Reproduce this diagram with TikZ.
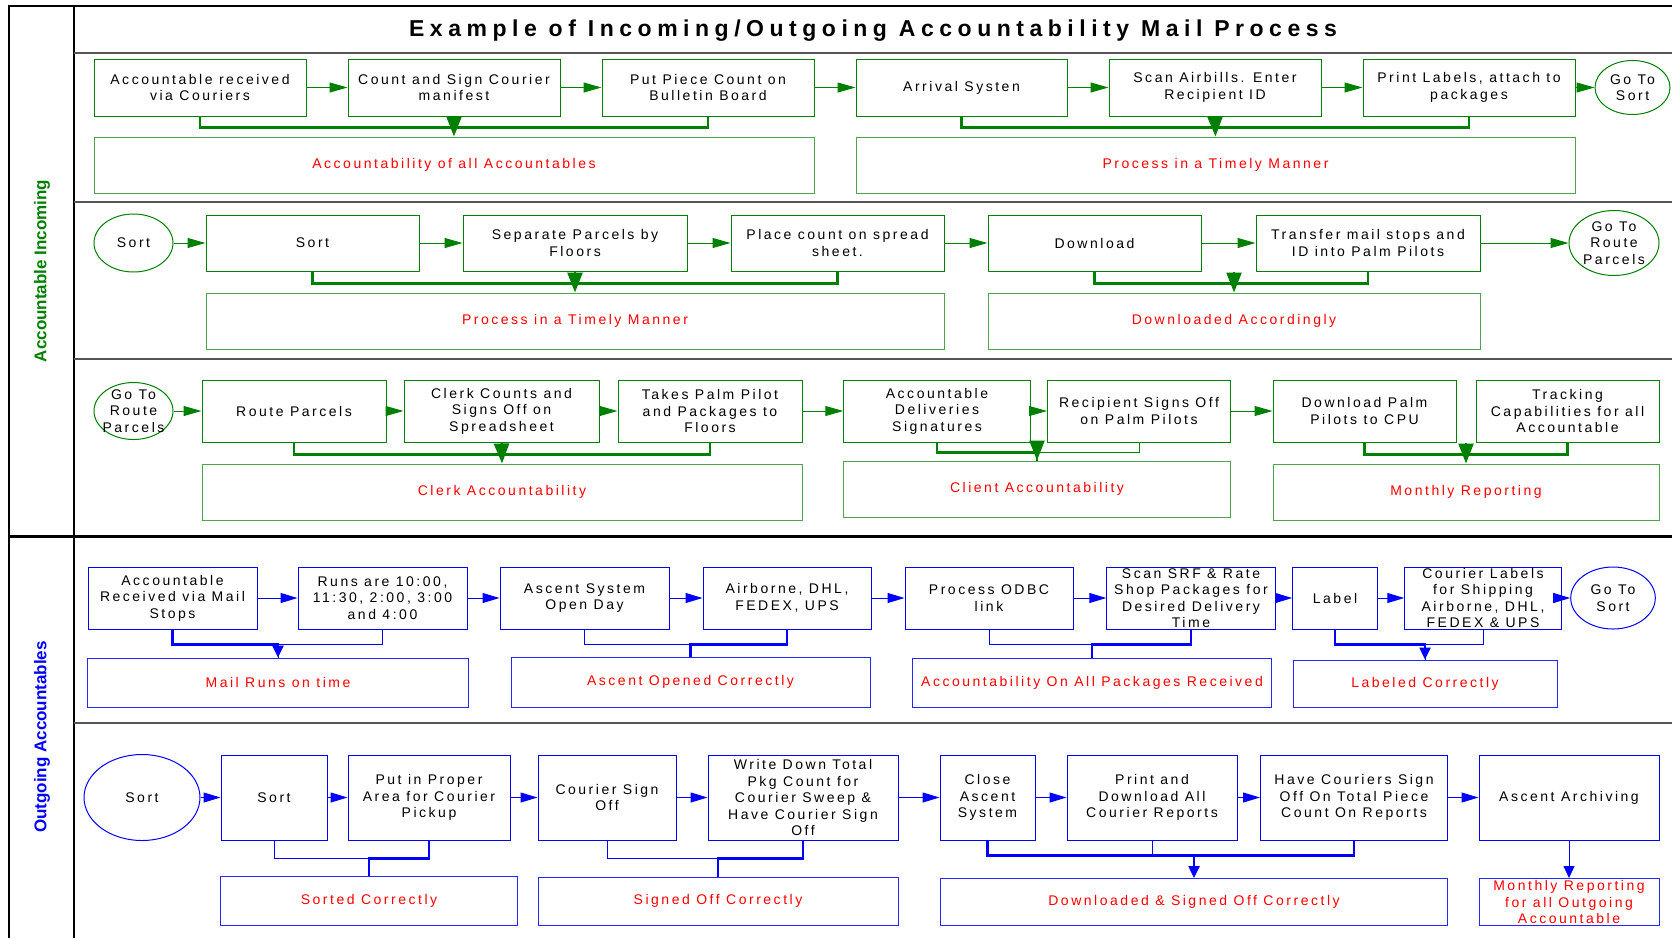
\documentclass[tikz,border=0pt]{standalone}
\usepackage{fontspec}
\setmainfont{Liberation Sans}
\newfontfamily\boxfont{Liberation Sans}[LetterSpace = 18]
\newfontfamily\titlefont{Liberation Sans}[LetterSpace = 24]
\usetikzlibrary{arrows.meta, shapes.geometric}

\definecolor{ingreen}{RGB}{0,128,0}
\definecolor{outblue}{RGB}{0,0,255}
\definecolor{notered}{RGB}{255,0,0}
\definecolor{lanegrey}{RGB}{85,85,85}

\newcommand{\px}{1pt}

\tikzset{
  gbox/.style = {draw = ingreen, line width = 1pt, inner sep = 0pt, align = center,
    font = {\boxfont\fontsize{14}{16.5}\selectfont}},
  gsum/.style = {gbox, draw = ingreen!70, text = notered},
  gterm/.style = {gbox, ellipse, inner sep = -6pt},
  bbox/.style = {gbox, draw = outblue},
  bsum/.style = {bbox, draw = outblue!85, text = notered},
  bterm/.style = {bbox, ellipse, inner sep = -6pt},
  gstep/.style = {draw = ingreen, line width = 1pt, -{Triangle[length = 18pt, width = 10pt]}},
  bstep/.style = {draw = outblue, line width = 1pt, -{Triangle[length = 17pt, width = 10pt]}},
  gthin/.style = {draw = ingreen, line width = 1pt},
  gtie/.style = {draw = ingreen, line width = 2.5pt},
  gfeed/.style = {gtie, -{Triangle[length = 20pt, width = 15pt]}},
  bthin/.style = {draw = outblue, line width = 1pt},
  btie/.style = {draw = outblue, line width = 2.5pt},
  bfeed/.style = {btie, -{Triangle[length = 12pt, width = 11pt]}},
  lane/.style = {draw = black, line width = 1.8pt},
  sep/.style = {draw = lanegrey, line width = 1.4pt}
}

\begin{document}
\begin{tikzpicture}[x = \px, y = -\px]

\useasboundingbox (0, 0) rectangle (1672, 938);

\draw [lane] (9, 938) -- (9, 6) -- (1672, 6);
\draw [lane] (74, 6) -- (74, 938);
\draw [sep] (74, 53) -- (1672, 53);
\draw [sep] (74, 202) -- (1672, 202);
\draw [sep] (74, 359) -- (1672, 359);
\draw [sep] (74, 723) -- (1672, 723);
\draw [lane, line width = 3pt] (9, 536) -- (1672, 536);

\node [font = {\titlefont\bfseries\fontsize{23}{26}\selectfont}] (title) at (873, 31) {Example of Incoming/Outgoing Accountability Mail Process};
\node [rotate = 90, text = ingreen, font = {\bfseries\fontsize{17}{20}\selectfont}] (lin) at (42, 271) {Accountable Incoming};
\node [rotate = 90, text = outblue, font = {\bfseries\fontsize{17}{20}\selectfont}] (lout) at (42, 737) {Outgoing Accountables};

\node [gbox, minimum width = 212, minimum height = 57] (a1) at (200, 87.5) {Accountable received\\via Couriers};
\node [gbox, minimum width = 212, minimum height = 57] (a2) at (454, 87.5) {Count and Sign Courier\\manifest};
\node [gbox, minimum width = 212, minimum height = 57] (a3) at (708, 87.5) {Put Piece Count on\\Bulletin Board};
\node [gbox, minimum width = 211, minimum height = 57] (a4) at (961.5, 87.5) {Arrival Systen};
\node [gbox, minimum width = 212, minimum height = 57] (a5) at (1215, 87.5) {Scan Airbills. Enter\\Recipient ID};
\node [gbox, minimum width = 212, minimum height = 57] (a6) at (1469, 87.5) {Print Labels, attach to\\packages};
\node [gterm, minimum width = 75, minimum height = 54] (e1) at (1632.5, 87.5) {Go To\\Sort};
\node [gsum, minimum width = 720, minimum height = 56] (s1) at (454, 165) {Accountability of all Accountables};
\node [gsum, minimum width = 719, minimum height = 56] (s2) at (1215.5, 165) {Process in a Timely Manner};

\node [gterm, minimum width = 79, minimum height = 58] (e2) at (133.5, 243) {Sort};
\node [gbox, minimum width = 213, minimum height = 56] (b1) at (312.5, 243) {Sort};
\node [gbox, minimum width = 224, minimum height = 56] (b2) at (575, 243) {Separate Parcels by\\Floors};
\node [gbox, minimum width = 213, minimum height = 56] (b3) at (837.5, 243) {Place count on spread\\sheet.};
\node [gbox, minimum width = 213, minimum height = 56] (b4) at (1094.5, 243) {Download};
\node [gbox, minimum width = 224, minimum height = 56] (b5) at (1368, 243) {Transfer mail stops and\\ID into Palm Pilots};
\node [gterm, minimum width = 90, minimum height = 65] (e3) at (1614, 243) {Go To\\Route\\Parcels};
\node [gsum, minimum width = 738, minimum height = 56] (s3) at (575, 321) {Process in a Timely Manner};
\node [gsum, minimum width = 492, minimum height = 56] (s4) at (1234, 321) {Downloaded Accordingly};

\node [gterm, minimum width = 79, minimum height = 57] (e4) at (133.5, 411) {Go To\\Route\\Parcels};
\node [gbox, minimum width = 184, minimum height = 62] (c1) at (294, 411) {Route Parcels};
\node [gbox, minimum width = 195, minimum height = 62] (c2) at (501.5, 411) {Clerk Counts and\\Signs Off on\\Spreadsheet};
\node [gbox, minimum width = 184, minimum height = 62] (c3) at (710, 411) {Takes Palm Pilot\\and Packages to\\Floors};
\node [gbox, minimum width = 186.5, minimum height = 62] (c4) at (937, 411) {Accountable\\Deliveries\\Signatures};
\node [gbox, minimum width = 183, minimum height = 62] (c5) at (1139, 411) {Recipient Signs Off\\on Palm Pilots};
\node [gbox, minimum width = 183, minimum height = 62] (c6) at (1364.5, 411) {Download Palm\\Pilots to CPU};
\node [gbox, minimum width = 183, minimum height = 62] (c7) at (1567.5, 411) {Tracking\\Capabilities for all\\Accountable};
\node [gsum, minimum width = 600, minimum height = 56] (s5) at (502, 492) {Clerk Accountability};
\node [gsum, minimum width = 386.6, minimum height = 56] (s6) at (1037, 489) {Client Accountability};
\node [gsum, minimum width = 386, minimum height = 56] (s7) at (1466, 492) {Monthly Reporting};

\node [bbox, minimum width = 169, minimum height = 62] (d1) at (172.5, 598) {Accountable\\Received via Mail\\Stops};
\node [bbox, minimum width = 169, minimum height = 62] (d2) at (382.5, 598) {Runs are 10:00,\\11:30, 2:00, 3:00\\and 4:00};
\node [bbox, minimum width = 169, minimum height = 62] (d3) at (584.5, 598) {Ascent System\\Open Day};
\node [bbox, minimum width = 168, minimum height = 62] (d4) at (787, 598) {Airborne, DHL,\\FEDEX, UPS};
\node [bbox, minimum width = 168, minimum height = 62] (d5) at (989, 598) {Process ODBC\\link};
\node [bbox, minimum width = 168.5, minimum height = 62] (d6) at (1191, 598) {Scan SRF \& Rate\\Shop Packages for\\Desired Delivery\\Time};
\node [bbox, minimum width = 84.6, minimum height = 62] (d7) at (1335, 598) {Label};
\node [bbox, minimum width = 156.5, minimum height = 62] (d8) at (1483, 598) {Courier Labels\\for Shipping\\Airborne, DHL,\\FEDEX \& UPS};
\node [bterm, minimum width = 84.6, minimum height = 62] (e5) at (1613, 598) {Go To\\Sort};
\node [bsum, minimum width = 380.6, minimum height = 49] (t1) at (278, 682.5) {Mail Runs on time};
\node [bsum, minimum width = 359, minimum height = 50] (t2) at (690.5, 682) {Ascent Opened Correctly};
\node [bsum, minimum width = 359.5, minimum height = 49] (t3) at (1092, 682.5) {Accountability On All Packages Received};
\node [bsum, minimum width = 264, minimum height = 47] (t4) at (1425, 683.5) {Labeled Correctly};

\node [bterm, minimum width = 116, minimum height = 86] (e6) at (142, 797.5) {Sort};
\node [bbox, minimum width = 106, minimum height = 85] (f1) at (274, 797.5) {Sort};
\node [bbox, minimum width = 162, minimum height = 85] (f2) at (429, 797.5) {Put in Proper\\Area for Courier\\Pickup};
\node [bbox, minimum width = 138, minimum height = 85] (f3) at (607, 797.5) {Courier Sign\\Off};
\node [bbox, minimum width = 190, minimum height = 85] (f4) at (803, 797.5) {Write Down Total\\Pkg Count for\\Courier Sweep \&\\Have Courier Sign\\Off};
\node [bbox, minimum width = 95, minimum height = 85] (f5) at (987.5, 797.5) {Close\\Ascent\\System};
\node [bbox, minimum width = 170, minimum height = 85] (f6) at (1152, 797.5) {Print and\\Download All\\Courier Reports};
\node [bbox, minimum width = 187, minimum height = 85] (f7) at (1354, 797.5) {Have Couriers Sign\\Off On Total Piece\\Count On Reports};
\node [bbox, minimum width = 180, minimum height = 85] (f8) at (1569, 797.5) {Ascent Archiving};
\node [bsum, minimum width = 296.5, minimum height = 49] (u1) at (369, 901) {Sorted Correctly};
\node [bsum, minimum width = 360, minimum height = 48] (u2) at (718, 901) {Signed Off Correctly};
\node [bsum, minimum width = 507.6, minimum height = 47] (u3) at (1194, 902) {Downloaded \& Signed Off Correctly};
\node [bsum, minimum width = 180, minimum height = 47] (u4) at (1569, 902) {Monthly Reporting\\for all Outgoing\\Accountable};

\draw [gstep] (a1) -- (a2);
\draw [gstep] (a2) -- (a3);
\draw [gstep] (a3) -- (a4);
\draw [gstep] (a4) -- (a5);
\draw [gstep] (a5) -- (a6);
\draw [gstep] (a6) -- (e1);
\draw [gtie] (a1.south) -- ++(0, 11) -| (a3.south);
\draw [gfeed] (a2.south) -- (s1.north);
\draw [gtie] (a4.south) -- ++(0, 11) -| (a6.south);
\draw [gfeed] (a5.south) -- (s2.north);

\draw [gstep] (e2) -- (b1);
\draw [gstep] (b1) -- (b2);
\draw [gstep] (b2) -- (b3);
\draw [gstep] (b3) -- (b4);
\draw [gstep] (b4) -- (b5);
\draw [gstep] (b5) -- (e3);
\draw [gtie] (b1.south) -- ++(0, 12) -| (b3.south);
\draw [gfeed] (b2.south) -- (s3.north);
\draw [gtie] (b4.south) -- ++(0, 12) -| (b5.south);
\draw [gfeed] (b4.south -| s4.north) -- (s4.north);

\draw [gstep] (e4) -- (c1);
\draw [gstep] (c1) -- (c2);
\draw [gstep] (c2) -- (c3);
\draw [gstep] (c3) -- (c4);
\draw [gstep] (c4) -- (c5);
\draw [gstep] (c5) -- (c6);
\draw [gtie] (c1.south) -- ++(0, 12) -| (c3.south);
\draw [gfeed] (c2.south) -- (s5.north);
\draw [gthin] (c5.south) -- ++(0, 10) -| (s6.north);
\draw [gtie] (c4.south) -- ++(0, 10) -| (s6.north);
\draw [gfeed] (c4.south -| s6.north) -- (s6.north);
\draw [gtie] (c6.south) -- ++(0, 12) -| (c7.south);
\draw [gfeed] (c6.south -| s7.north) -- (s7.north);

\draw [bstep] (d1) -- (d2);
\draw [bstep] (d2) -- (d3);
\draw [bstep] (d3) -- (d4);
\draw [bstep] (d4) -- (d5);
\draw [bstep] (d5) -- (d6);
\draw [bstep] (d6) -- (d7);
\draw [bstep] (d7) -- (d8);
\draw [bstep] (d8) -- (e5);
\draw [bthin] (d2.south) -- ++(0, 15) -| (t1.north);
\draw [bfeed] (d1.south) -- ++(0, 15) -| (t1.north);
\draw [bthin] (d3.south) -- ++(0, 15) -| (t2.north);
\draw [btie] (d4.south) -- ++(0, 15) -| (t2.north);
\draw [bthin] (d5.south) -- ++(0, 15) -| (t3.north);
\draw [btie] (d6.south) -- ++(0, 15) -| (t3.north);
\draw [bthin] (d8.south) -- ++(0, 15) -| (t4.north);
\draw [bfeed] (d7.south) -- ++(0, 15) -| (t4.north);

\draw [bstep] (e6) -- (f1);
\draw [bstep] (f1) -- (f2);
\draw [bstep] (f2) -- (f3);
\draw [bstep] (f3) -- (f4);
\draw [bstep] (f4) -- (f5);
\draw [bstep] (f5) -- (f6);
\draw [bstep] (f6) -- (f7);
\draw [bstep] (f7) -- (f8);
\draw [bthin] (f1.south) -- ++(0, 18) -| (u1.north);
\draw [btie] (f2.south) -- ++(0, 18) -| (u1.north);
\draw [bthin] (f3.south) -- ++(0, 18) -| (u2.north);
\draw [btie] (f4.south) -- ++(0, 18) -| (u2.north);
\draw [bthin] (f6.south) -- ++(0, 15);
\draw [btie] (f5.south) -- ++(0, 15) -| (f7.south);
\draw [bfeed] (f5.south -| u3.north) ++(0, 15) -- (u3.north);
\draw [bthin, -{Triangle[length = 12pt, width = 11pt]}] (f8) -- (u4);

\end{tikzpicture}
\end{document}
